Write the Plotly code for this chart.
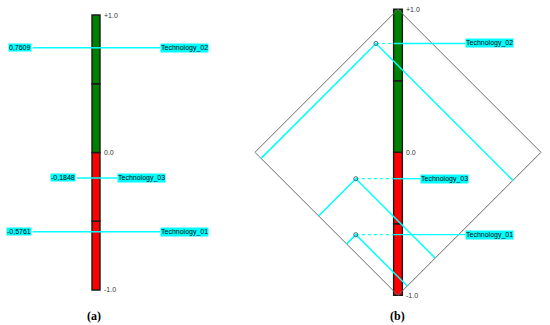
import numpy as np
import plotly.graph_objects as go

# ---- data ----
technologies = ["Technology_01", "Technology_02", "Technology_03"]
scores = [-0.5761, 0.7609, -0.1848]          # vertical position (both panels)
diamond_x = [-0.295, -0.154, -0.295]         # horizontal position in panel (b)
tick_values = [1.0, 0.0, -1.0]
tick_labels = ["+1.0", "0.0", "-1.0"]
segment_bases = [-1.0, -0.5, 0.0, 0.5]
segment_height = 0.5
segment_colors = ["#ff0000", "#ff0000", "#008000", "#008000"]
panel_labels = ["(a)", "(b)"]

# ---- styling / layout constants ----
W, H = 550, 325
CYAN = "#00ffff"
FONT = "Liberation Sans"
# panel (a): x in pixel units, y in score units
A_BAR_X, A_BAR_W = 96, 8
A_YR = [-1.2545, 1.109]
a_left_end = {"Technology_01": 33, "Technology_02": 33, "Technology_03": 77}
a_right_end = {"Technology_01": 160, "Technology_02": 160, "Technology_03": 117}
# panel (b): equal-scale score units
B_XR = [-2.783, 1.063]
B_YR = [-1.2077, 1.065]
B_BAR_W = 0.061
b_label_x = {"Technology_01": 0.469, "Technology_02": 0.469, "Technology_03": 0.154}

BAR_LINE = dict(color="#1a1a1a", width=1.4)

fig = go.Figure()

# ---------------- panel (a) ----------------
fig.add_trace(go.Bar(x=[A_BAR_X] * len(segment_bases), y=[segment_height] * len(segment_bases),
                     base=segment_bases, width=A_BAR_W,
                     marker=dict(color=segment_colors, line=BAR_LINE),
                     xaxis="x", yaxis="y", showlegend=False, hoverinfo="skip"))

annotations = []
for name, v in zip(technologies, scores):
    x0, x1 = a_left_end[name], a_right_end[name]
    fig.add_trace(go.Scatter(x=[x0, x1], y=[v, v], mode="lines",
                             line=dict(color=CYAN, width=1.5),
                             xaxis="x", yaxis="y", showlegend=False, hoverinfo="skip"))
    annotations.append(dict(x=x0 - 1, y=v, xref="x", yref="y", xanchor="right", yanchor="middle",
                            text=f"{v:.4f}".replace(".", ","), showarrow=False, bgcolor=CYAN,
                            borderpad=0, font=dict(family=FONT, size=7, color="#000")))
    annotations.append(dict(x=x1, y=v, xref="x", yref="y", xanchor="left", yanchor="middle",
                            text=name, showarrow=False, bgcolor=CYAN,
                            borderpad=0, font=dict(family=FONT, size=7, color="#000")))

for tv, tl in zip(tick_values, tick_labels):
    annotations.append(dict(x=A_BAR_X + A_BAR_W / 2 + 2, y=tv, xref="x", yref="y",
                            xanchor="left", yanchor="middle", text=tl, showarrow=False,
                            yshift=-1 if tv > 0 else (1 if tv < 0 else 0),
                            font=dict(family=FONT, size=7, color="#333")))

# ---------------- panel (b) ----------------
fig.add_trace(go.Scatter(x=[0, 1, 0, -1, 0], y=[1, 0, -1, 0, 1], mode="lines",
                         line=dict(color="#6a6a6a", width=1),
                         xaxis="x2", yaxis="y2", showlegend=False, hoverinfo="skip"))
fig.add_trace(go.Bar(x=[0] * len(segment_bases), y=[segment_height] * len(segment_bases),
                     base=segment_bases, width=B_BAR_W,
                     marker=dict(color=segment_colors, line=BAR_LINE),
                     xaxis="x2", yaxis="y2", showlegend=False, hoverinfo="skip"))

for name, v, px in zip(technologies, scores, diamond_x):
    # down-left to lower-left edge (x + y = -1)
    t1 = (px + v + 1) / 2
    # down-right to lower-right edge (x - y = 1)
    t2 = (1 - px + v) / 2
    xs = [px - t1, px, px + t2]
    ys = [v - t1, v, v - t2]
    fig.add_trace(go.Scatter(x=xs, y=ys, mode="lines", line=dict(color=CYAN, width=1.5),
                             xaxis="x2", yaxis="y2", showlegend=False, hoverinfo="skip"))
    fig.add_trace(go.Scatter(x=[px, -B_BAR_W / 2], y=[v, v], mode="lines",
                             line=dict(color=CYAN, width=1.2, dash="dot"),
                             xaxis="x2", yaxis="y2", showlegend=False, hoverinfo="skip"))
    fig.add_trace(go.Scatter(x=[-B_BAR_W / 2, b_label_x[name]], y=[v, v], mode="lines",
                             line=dict(color=CYAN, width=1.3),
                             xaxis="x2", yaxis="y2", showlegend=False, hoverinfo="skip"))
    fig.add_trace(go.Scatter(x=[px], y=[v], mode="markers",
                             marker=dict(symbol="circle-open", size=4, color="#2e6e6e",
                                         line=dict(width=1)),
                             xaxis="x2", yaxis="y2", showlegend=False, hoverinfo="skip"))
    annotations.append(dict(x=b_label_x[name], y=v, xref="x2", yref="y2", xanchor="left",
                            yanchor="middle", text=name, showarrow=False, bgcolor=CYAN,
                            borderpad=0, font=dict(family=FONT, size=7, color="#000")))

for tv, tl in zip(tick_values, tick_labels):
    annotations.append(dict(x=B_BAR_W / 2 + 0.012, y=tv, xref="x2", yref="y2",
                            xanchor="left", yanchor="middle", text=tl, showarrow=False,
                            font=dict(family=FONT, size=7, color="#333")))

# panel captions
annotations.append(dict(x=94, y=316, xref="x", yref="paper", text=f"<b>{panel_labels[0]}</b>",
                        showarrow=False, font=dict(family="Liberation Serif", size=12, color="#000")))
annotations.append(dict(x=0, y=316, xref="x2", yref="paper", text=f"<b>{panel_labels[1]}</b>",
                        showarrow=False, font=dict(family="Liberation Serif", size=12, color="#000")))
# convert caption y (pixel from top) to paper fraction
for a in annotations[-2:]:
    a["y"] = 1 - a["y"] / H
    a["yanchor"] = "middle"

fig.update_layout(
    width=W, height=H, margin=dict(l=0, r=0, t=0, b=0),
    paper_bgcolor="white", plot_bgcolor="rgba(0,0,0,0)",
    barmode="overlay", showlegend=False,
    xaxis=dict(range=[0, W], visible=False, domain=[0, 1], fixedrange=True),
    yaxis=dict(range=A_YR, visible=False, domain=[0, 1], fixedrange=True),
    xaxis2=dict(range=B_XR, visible=False, overlaying="x", anchor="y2", fixedrange=True),
    yaxis2=dict(range=B_YR, visible=False, overlaying="y", anchor="x2", fixedrange=True),
    annotations=annotations,
)

fig.write_html("out.html", config={"displayModeBar": False},
               post_script="document.body.style.margin='0';document.body.style.overflow='hidden';")
